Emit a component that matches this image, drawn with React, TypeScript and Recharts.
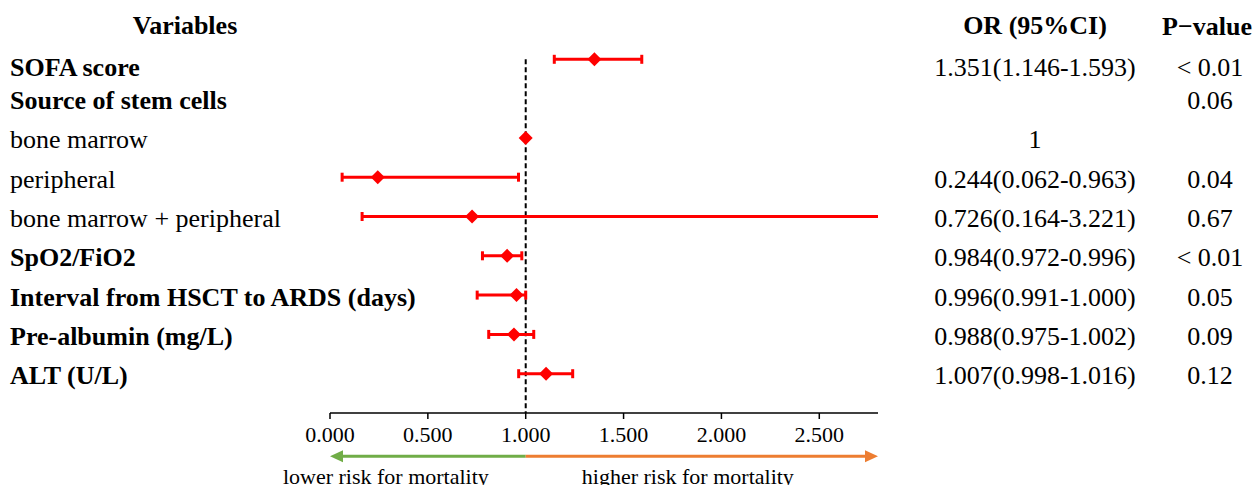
import { ScatterChart, Scatter, XAxis, YAxis, ReferenceLine } from "recharts";

const FONT = "'Liberation Serif', 'Times New Roman', serif";

const VARIABLES = [
  "SOFA score",
  "Source of stem cells",
  "bone marrow",
  "peripheral",
  "bone marrow + peripheral",
  "SpO2/FiO2",
  "Interval from HSCT to ARDS (days)",
  "Pre-albumin (mg/L)",
  "ALT (U/L)",
];
const BOLD = [true, true, false, false, false, true, true, true, true];
const OR_TEXT = [
  "1.351(1.146-1.593)",
  "",
  "1",
  "0.244(0.062-0.963)",
  "0.726(0.164-3.221)",
  "0.984(0.972-0.996)",
  "0.996(0.991-1.000)",
  "0.988(0.975-1.002)",
  "1.007(0.998-1.016)",
];
const P_TEXT = ["< 0.01", "0.06", "", "0.04", "0.67", "< 0.01", "0.05", "0.09", "0.12"];

// positions as drawn in the figure (not always equal to the printed OR)
const ESTIMATE = [1.351, null, 1, 0.244, 0.726, 0.905, 0.953, 0.94, 1.104];
const LOWER = [1.146, null, null, 0.062, 0.164, 0.779, 0.752, 0.811, 0.964];
const UPPER = [1.593, null, null, 0.963, 3.221, 0.98, 1.0, 1.041, 1.24];

const X_TICKS = [0, 0.5, 1, 1.5, 2, 2.5];
const Y_TICKS = [-1, 0, 1, 2, 3, 4, 5, 6, 7, 8];
const ARROW_Y = 10.1;

const points = ESTIMATE.map((x, i) => ({ x, y: i })).filter((d) => d.x != null);
const intervals = LOWER.map((lo, i) => ({ lo, hi: UPPER[i], y: i })).filter((d) => d.lo != null);

const Diamond = (p: any) => {
  const { cx, cy } = p;
  const r = 7;
  return (
    <polygon
      points={`${cx},${cy - r} ${cx + r},${cy} ${cx},${cy + r} ${cx - r},${cy}`}
      fill="#ff0000"
    />
  );
};

// whisker with end caps, clipped to the plot area
const Whisker = (p: any) => {
  const { x1, y1, x2, y2, clipPath } = p;
  const c = 4.5;
  return (
    <g clipPath={clipPath} stroke="#ff0000" strokeWidth={3}>
      <line x1={x1} y1={y1} x2={x2} y2={y2} />
      <line x1={x1} y1={y1 - c} x2={x1} y2={y1 + c} />
      <line x1={x2} y1={y2 - c} x2={x2} y2={y2 + c} />
    </g>
  );
};

const RowTick = (p: any) => {
  const { y, payload } = p;
  const i = payload.value;
  if (i === -1) {
    return (
      <g fontFamily={FONT} fontSize={26} fontWeight="bold" fill="#000">
        <text x={185} y={y + 5} textAnchor="middle" dominantBaseline="central">Variables</text>
        <text x={1035} y={y + 5} textAnchor="middle" dominantBaseline="central">OR (95%CI)</text>
        <text x={1207} y={y + 6} textAnchor="middle" dominantBaseline="central">P−value</text>
      </g>
    );
  }
  const dy = i === 0 ? 8 : 2;
  return (
    <g fontFamily={FONT} fontSize={26} fill="#000">
      <text x={10} y={y + dy} dominantBaseline="central" fontWeight={BOLD[i] ? "bold" : "normal"}>
        {VARIABLES[i]}
      </text>
      <text x={1035} y={y + dy} textAnchor="middle" dominantBaseline="central">{OR_TEXT[i]}</text>
      <text x={1210} y={y + dy} textAnchor="middle" dominantBaseline="central">{P_TEXT[i]}</text>
    </g>
  );
};

const Arrow = (color: string, label: string, labelShift: number) => (p: any) => {
  const { x1, y1, x2, y2 } = p;
  const dir = x2 > x1 ? 1 : -1;
  const head = 13;
  return (
    <g>
      <line x1={x1} y1={y1} x2={x2 - dir * head} y2={y2} stroke={color} strokeWidth={3} />
      <polygon
        points={`${x2},${y2} ${x2 - dir * head},${y2 - 6} ${x2 - dir * head},${y2 + 6}`}
        fill={color}
      />
      <text
        x={(x1 + x2) / 2 + labelShift}
        y={y2 + 20}
        textAnchor="middle"
        dominantBaseline="central"
        fontFamily={FONT}
        fontSize={22}
        fill="#000"
      >
        {label}
      </text>
    </g>
  );
};

export default function App() {
  return (
    <div style={{ position: "absolute", left: 0, top: 0, background: "#fff" }}>
      <ScatterChart width={1255} height={485} margin={{ top: 20, right: 377, bottom: 32, left: 0 }}>
        <XAxis
          type="number"
          dataKey="x"
          domain={[0, 2.8]}
          ticks={X_TICKS}
          allowDataOverflow
          height={40}
          tickFormatter={(v: number) => v.toFixed(3)}
          tick={{ fontFamily: FONT, fontSize: 22, fill: "#000" }}
          stroke="#000"
          strokeWidth={1.5}
          tickSize={6}
          tickMargin={7}
        />
        <YAxis
          type="number"
          dataKey="y"
          domain={[-1, 9]}
          reversed
          ticks={Y_TICKS}
          interval={0}
          width={330}
          axisLine={false}
          tickLine={false}
          tick={<RowTick />}
        />
        <ReferenceLine
          segment={[{ x: 1, y: 0 }, { x: 1, y: 9 }]}
          stroke="#000"
          strokeWidth={2}
          strokeDasharray="5 3"
        />
        {intervals.map((d) => (
          <ReferenceLine
            key={d.y}
            segment={[{ x: d.lo as number, y: d.y }, { x: d.hi as number, y: d.y }]}
            ifOverflow="hidden"
            shape={Whisker}
          />
        ))}
        <ReferenceLine
          segment={[{ x: 1, y: ARROW_Y }, { x: 0, y: ARROW_Y }]}
          ifOverflow="visible"
          shape={Arrow("#70ad47", "lower risk for mortality", -42)}
        />
        <ReferenceLine
          segment={[{ x: 1, y: ARROW_Y }, { x: 2.8, y: ARROW_Y }]}
          ifOverflow="visible"
          shape={Arrow("#ed7d31", "higher risk for mortality", -14)}
        />
        <Scatter data={points} shape={Diamond} isAnimationActive={false} />
      </ScatterChart>
    </div>
  );
}
